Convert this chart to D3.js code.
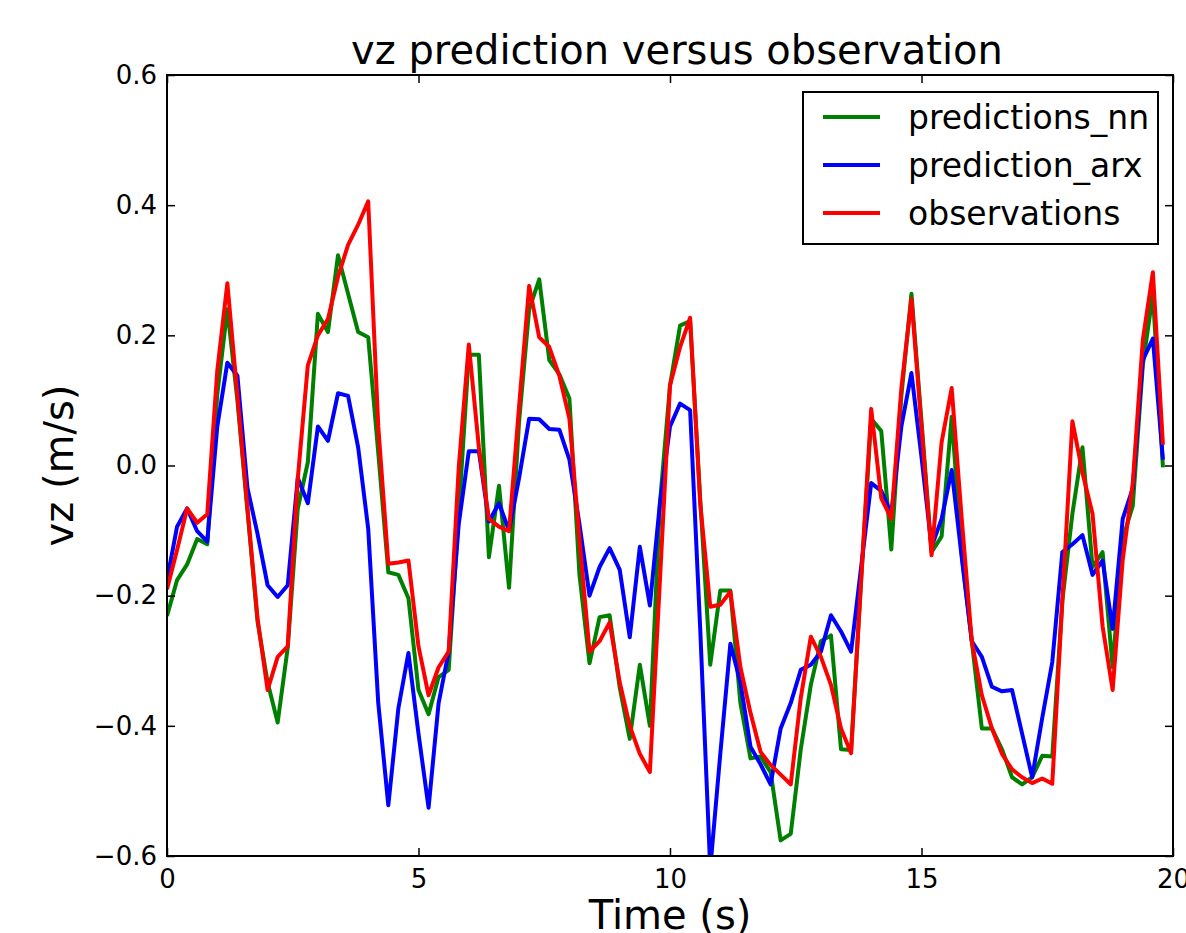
<!DOCTYPE html>
<html>
<head>
<meta charset="utf-8">
<script src="https://cdn.jsdelivr.net/npm/d3@7"></script>
<style>
  body { margin: 0; background: #fff; }
  svg { display: block; font-family: "DejaVu Sans", sans-serif; }
</style>
</head>
<body>
<div id="container"></div>
<script>
// time step is 0.2 s, 100 samples
const times = d3.range(100).map(i => +(i * 0.2).toFixed(1));

const predictionsNN = [
  -0.231, -0.176, -0.152, -0.113, -0.121, 0.11, 0.24, 0.10, -0.07, -0.24,
  -0.333, -0.395, -0.28, -0.066, 0.005, 0.233, 0.205, 0.323, 0.264, 0.205,
  0.197, 0.02, -0.164, -0.168, -0.204, -0.345, -0.382, -0.325, -0.314, -0.074,
  0.17, 0.17, -0.141, -0.031, -0.188, 0.068, 0.24, 0.286, 0.162, 0.14,
  0.103, -0.168, -0.304, -0.233, -0.23, -0.341, -0.42, -0.306, -0.40, -0.058,
  0.123, 0.215, 0.222, -0.05, -0.306, -0.192, -0.192, -0.365, -0.45, -0.447,
  -0.471, -0.576, -0.566, -0.436, -0.337, -0.27, -0.261, -0.436, -0.437, -0.176,
  0.072, 0.053, -0.129, 0.107, 0.264, 0.068, -0.133, -0.109, 0.075, -0.137,
  -0.27, -0.404, -0.404, -0.436, -0.479, -0.49, -0.479, -0.446, -0.447, -0.208,
  -0.074, 0.028, -0.156, -0.133, -0.31, -0.113, -0.062, 0.154, 0.264, -0.003
];

const predictionARX = [
  -0.176, -0.094, -0.066, -0.101, -0.117, 0.06, 0.158, 0.138, -0.035, -0.105,
  -0.184, -0.202, -0.184, -0.019, -0.058, 0.06, 0.038, 0.111, 0.107, 0.028,
  -0.097, -0.365, -0.522, -0.373, -0.288, -0.412, -0.526, -0.365, -0.286, -0.09,
  0.022, 0.022, -0.086, -0.058, -0.10, -0.019, 0.072, 0.071, 0.056, 0.055,
  0.009, -0.09, -0.20, -0.156, -0.127, -0.16, -0.264, -0.125, -0.215, -0.058,
  0.06, 0.095, 0.085, -0.25, -0.62, -0.443, -0.274, -0.333, -0.432, -0.459,
  -0.49, -0.404, -0.365, -0.314, -0.306, -0.286, -0.23, -0.255, -0.286, -0.156,
  -0.027, -0.039, -0.074, 0.06, 0.142, 0.013, -0.125, -0.082, -0.007, -0.141,
  -0.27, -0.294, -0.34, -0.347, -0.345, -0.412, -0.479, -0.388, -0.302, -0.133,
  -0.121, -0.107, -0.168, -0.146, -0.251, -0.082, -0.035, 0.162, 0.195, 0.009
];

const observations = [
  -0.19, -0.13, -0.066, -0.088, -0.075, 0.146, 0.28, 0.107, -0.066, -0.235,
  -0.345, -0.294, -0.278, -0.02, 0.154, 0.20, 0.225, 0.29, 0.339, 0.37,
  0.406, 0.06, -0.151, -0.149, -0.146, -0.278, -0.353, -0.31, -0.286, -0.003,
  0.186, 0.028, -0.082, -0.094, -0.101, 0.091, 0.276, 0.197, 0.182, 0.138,
  0.072, -0.113, -0.286, -0.27, -0.241, -0.333, -0.40, -0.443, -0.471, -0.176,
  0.123, 0.182, 0.227, -0.058, -0.217, -0.214, -0.194, -0.31, -0.38, -0.44,
  -0.46, -0.475, -0.49, -0.357, -0.263, -0.294, -0.337, -0.404, -0.442, -0.176,
  0.087, -0.05, -0.082, 0.119, 0.256, 0.06, -0.138, 0.036, 0.119, -0.082,
  -0.27, -0.353, -0.404, -0.443, -0.467, -0.479, -0.488, -0.481, -0.489, -0.208,
  0.068, -0.011, -0.074, -0.247, -0.345, -0.145, -0.027, 0.193, 0.297, 0.032
];

const seriesNames = ["predictions_nn", "prediction_arx", "observations"];
const seriesColors = ["#008000", "#0000ff", "#ff0000"];
const xTicks = [0, 5, 10, 15, 20];
const yTicks = [-0.6, -0.4, -0.2, 0.0, 0.2, 0.4, 0.6];

const w = 1186;
const h = 933;
const plotLeft = 167, plotRight = 1173, plotTop = 75, plotBottom = 856;

const xScale = d3.scaleLinear().domain([0, 20]).range([plotLeft, plotRight]);
const yScale = d3.scaleLinear().domain([-0.6, 0.6]).range([plotBottom, plotTop]);

const svg = d3.select("div#container")
  .append("svg")
  .attr("width", w)
  .attr("height", h);

svg.append("clipPath")
  .attr("id", "plot-clip")
  .append("rect")
  .attr("x", plotLeft)
  .attr("y", plotTop)
  .attr("width", plotRight - plotLeft)
  .attr("height", plotBottom - plotTop);

const line = d3.line()
  .x((d, i) => xScale(times[i]))
  .y(d => yScale(d));

const allSeries = [predictionsNN, predictionARX, observations];

svg.append("g")
  .attr("clip-path", "url(#plot-clip)")
  .selectAll("path")
  .data(allSeries)
  .enter()
  .append("path")
  .attr("d", d => line(d))
  .attr("fill", "none")
  .attr("stroke", (d, i) => seriesColors[i])
  .attr("stroke-width", 4)
  .attr("stroke-linejoin", "round");

// axes, matplotlib classic: ticks point inward on all four sides
const tickLen = 8;
const fmtY = d3.format(".1f");

const xAxisBottom = d3.axisBottom(xScale).tickValues(xTicks).tickSize(-tickLen).tickPadding(14);
const xAxisTop = d3.axisTop(xScale).tickValues(xTicks).tickSize(-tickLen).tickFormat("");
const yAxisLeft = d3.axisLeft(yScale).tickValues(yTicks).tickSize(-tickLen).tickPadding(10).tickFormat(fmtY);
const yAxisRight = d3.axisRight(yScale).tickValues(yTicks).tickSize(-tickLen).tickFormat("");

svg.append("g").attr("transform", "translate(0," + plotBottom + ")").call(xAxisBottom);
svg.append("g").attr("transform", "translate(0," + plotTop + ")").call(xAxisTop);
svg.append("g").attr("transform", "translate(" + plotLeft + ",0)").call(yAxisLeft);
svg.append("g").attr("transform", "translate(" + plotRight + ",0)").call(yAxisRight);

svg.selectAll(".domain").remove();
svg.selectAll(".tick line").attr("stroke", "#000").attr("stroke-width", 1.5);
svg.selectAll(".tick text")
  .attr("font-family", "DejaVu Sans, sans-serif")
  .attr("font-size", 26)
  .attr("fill", "#000");

svg.append("rect")
  .attr("x", plotLeft)
  .attr("y", plotTop)
  .attr("width", plotRight - plotLeft)
  .attr("height", plotBottom - plotTop)
  .attr("fill", "none")
  .attr("stroke", "#000")
  .attr("stroke-width", 2);

// title and labels
svg.append("text")
  .attr("x", 677)
  .attr("y", 64)
  .attr("text-anchor", "middle")
  .attr("font-size", 40)
  .text("vz prediction versus observation");

svg.append("text")
  .attr("x", (plotLeft + plotRight) / 2)
  .attr("y", 929)
  .attr("text-anchor", "middle")
  .attr("font-size", 40)
  .text("Time (s)");

svg.append("text")
  .attr("transform", "translate(73," + (plotTop + plotBottom) / 2 + ") rotate(-90)")
  .attr("text-anchor", "middle")
  .attr("font-size", 40)
  .text("vz (m/s)");

// legend
const legend = svg.append("g");

legend.append("rect")
  .attr("x", 803)
  .attr("y", 92)
  .attr("width", 355)
  .attr("height", 152)
  .attr("fill", "#fff")
  .attr("stroke", "#000")
  .attr("stroke-width", 2);

const items = legend.selectAll("g.item")
  .data(seriesNames)
  .enter()
  .append("g")
  .attr("transform", (d, i) => "translate(0," + (117 + i * 48) + ")");

items.append("line")
  .attr("x1", 823)
  .attr("x2", 880)
  .attr("stroke", (d, i) => seriesColors[i])
  .attr("stroke-width", 4);

items.append("text")
  .attr("x", 908)
  .attr("y", 0)
  .attr("dy", "0.35em")
  .attr("font-size", 33)
  .text(d => d);
</script>
</body>
</html>
